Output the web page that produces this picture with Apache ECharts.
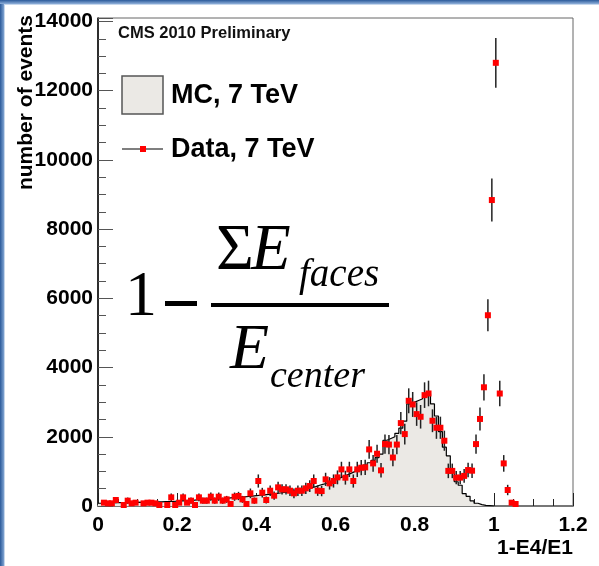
<!DOCTYPE html>
<html>
<head>
<meta charset="utf-8">
<script src="https://cdn.jsdelivr.net/npm/echarts@6/dist/echarts.min.js"></script>
<style>
  html, body { margin: 0; padding: 0; background: #fff; }
  #main { width: 599px; height: 566px; }
</style>
</head>
<body>
<div id="main"></div>
<script>
// histogram binning (1-E4/E1), bins of 0.01 starting at 0
var binWidth = 0.01;

// data, 7 TeV : counts per bin (null = empty bin, not drawn), bins 0.00 .. 1.06
var dataCounts = [
  null, 96, 77, 77, 173, null, 29, 154, 77, 96,
  null, 77, 96, 96, 77, 29, null, 29, 250, 29,
  96, 250, 96, 154, 29, 250, 154, 154, 269, 154,
  269, 154, 192, 58, 269, 289, 192, 58, 366, 154,
  722, 385, 173, 442, 298, 539, 481, 481, 442, 366,
  442, 442, 510, 577, 722, 442, 432, 770, 654, 722,
  827, 1058, 818, 1058, 722, 1058, 1106, 1116, 1635, 1231,
  1510, 1030, 1789, 1775, 1400, 1775, 2395, 2078, 3040, 2934,
  2655, 2578, 3203, 3251, 2463, 2261, 2261, 1886, 1015, 1015,
  820, 820, 870, 1039, 1020, 1789, 2515, 3430, 5512, 8840,
  12805, 3250, 1231, 462, 96, 58
];
// half length of the error bars
var dataErr = [
  null, 70, 60, 60, 90, null, 50, 90, 60, 70,
  null, 60, 70, 70, 60, 50, null, 50, 110, 50,
  70, 110, 70, 90, 50, 110, 90, 90, 120, 90,
  120, 90, 100, 60, 120, 120, 100, 60, 140, 90,
  190, 140, 100, 150, 120, 160, 150, 150, 150, 140,
  150, 150, 160, 170, 190, 150, 150, 190, 180, 190,
  200, 220, 200, 220, 190, 220, 220, 220, 270, 240,
  260, 210, 280, 280, 250, 280, 320, 300, 360, 360,
  340, 340, 370, 370, 330, 320, 320, 290, 210, 210,
  190, 190, 200, 210, 210, 280, 330, 380, 460, 620,
  720, 370, 240, 150, 70, 60
];

// MC, 7 TeV : histogram contents, bins 0.00 .. 1.00
var mcCounts = [
  80, 90, 85, 95, 100, 95, 100, 105, 100, 110,
  105, 110, 115, 110, 120, 120, 125, 130, 130, 140,
  150, 155, 160, 165, 175, 180, 185, 190, 200, 205,
  215, 220, 230, 240, 250, 255, 265, 275, 285, 300,
  310, 320, 335, 345, 360, 375, 390, 405, 420, 440,
  470, 480, 500, 530, 560, 600, 630, 670, 710, 750,
  800, 850, 900, 950, 1000, 1060, 1120, 1180, 1250, 1320,
  1400, 1500, 1900, 1950, 2000, 2100, 2250, 2450, 2950, 3000,
  3050, 3100, 3200, 3250, 2950, 2600, 2150, 1700, 1450, 1000,
  700, 600, 360, 280, 150, 80, 40, 20, 10, 0
];

var yTickLabels = [0, 2000, 4000, 6000, 8000, 10000, 12000, 14000];

var dataRows = [];
dataCounts.forEach(function (v, i) {
  if (v != null) dataRows.push([i * binWidth + binWidth / 2, v, dataErr[i]]);
});
var mcRows = mcCounts.map(function (v, i) { return [i * binWidth, v]; });
mcRows.push([mcCounts.length * binWidth, 0]);

var chart = echarts.init(document.getElementById('main'));
var sans = 'Liberation Sans, Arial, sans-serif';
var serif = 'Liberation Serif, Times New Roman, serif';

var option = {
  animation: false,
  backgroundColor: '#fff',
  grid: {
    left: 98, right: 26, top: 18, bottom: 60,
    show: true, borderColor: '#666', borderWidth: 1
  },
  xAxis: [
    {
      type: 'value', min: 0, max: 1.2, interval: 0.05, position: 'bottom',
      axisLine: { show: true, lineStyle: { color: '#777', width: 2 } },
      axisTick: { show: true, inside: true, length: 7, lineStyle: { color: '#222', width: 1 } },
      axisLabel: { show: false },
      splitLine: { show: false }
    },
    {
      type: 'value', min: 0, max: 1.2, interval: 0.2, position: 'bottom',
      axisLine: { show: false },
      axisTick: { show: true, inside: true, length: 13, lineStyle: { color: '#222', width: 1 } },
      axisLabel: {
        show: true, margin: 9, color: '#000', fontSize: 21, fontWeight: 'bold', fontFamily: sans
      },
      splitLine: { show: false }
    }
  ],
  yAxis: [
    {
      type: 'value', min: 0, max: 14100, interval: 500, position: 'left',
      axisLine: { show: true, lineStyle: { color: '#000', width: 1.5 } },
      axisTick: { show: true, inside: true, length: 8, lineStyle: { color: '#555', width: 1 } },
      axisLabel: {
        show: true, margin: 5, color: '#000', fontSize: 21, fontWeight: 'bold', fontFamily: sans,
        formatter: function (v) { return yTickLabels.indexOf(v) >= 0 ? String(v) : ''; }
      },
      splitLine: { show: false }
    },
    {
      type: 'value', min: 0, max: 14100, interval: 2000, position: 'left',
      axisLine: { show: false },
      axisTick: { show: true, inside: true, length: 15, lineStyle: { color: '#555', width: 1 } },
      axisLabel: { show: false },
      splitLine: { show: false }
    }
  ],
  series: [
    {
      name: 'MC, 7 TeV',
      type: 'line',
      xAxisIndex: 0, yAxisIndex: 0,
      step: 'end',
      symbol: 'none',
      data: mcRows,
      lineStyle: { color: '#000', width: 1.2 },
      areaStyle: { color: '#ebe9e5', opacity: 1 },
      z: 2
    },
    {
      name: 'Data, 7 TeV',
      type: 'custom',
      xAxisIndex: 0, yAxisIndex: 0,
      data: dataRows,
      encode: { x: 0, y: 1 },
      renderItem: function (params, api) {
        var x = api.value(0), v = api.value(1), e = api.value(2);
        var top = api.coord([x, v + e]);
        var bot = api.coord([x, Math.max(v - e, 0)]);
        var c = api.coord([x, v]);
        return {
          type: 'group',
          children: [
            { type: 'line', shape: { x1: top[0], y1: top[1], x2: bot[0], y2: bot[1] },
              style: { stroke: '#222', lineWidth: 1.5 } },
            { type: 'rect', shape: { x: c[0] - 3, y: c[1] - 3, width: 6, height: 6 },
              style: { fill: '#ff0000' } }
          ]
        };
      },
      z: 5
    }
  ],
  graphic: [
    // slide border
    { type: 'rect', left: 0, top: 0, shape: { width: 4, height: 566 },
      style: { fill: new echarts.graphic.LinearGradient(0, 0, 1, 0, [
        { offset: 0, color: '#2b5a9a' }, { offset: 1, color: '#7fa3d1' }]) }, silent: true },
    { type: 'rect', left: 0, top: 0, shape: { width: 599, height: 4 },
      style: { fill: new echarts.graphic.LinearGradient(0, 0, 0, 1, [
        { offset: 0, color: '#2b5a9a' }, { offset: 1, color: '#8fb0da' }]) }, silent: true },
    { type: 'rect', left: 4, top: 4, shape: { width: 1, height: 562 }, style: { fill: '#c6d7ec' }, silent: true },
    { type: 'rect', left: 4, top: 4, shape: { width: 595, height: 1 }, style: { fill: '#c6d7ec' }, silent: true },

    // texts
    { type: 'text', x: 118, y: 33, style: { text: 'CMS 2010 Preliminary', fill: '#111',
      font: 'bold 16.5px ' + sans, verticalAlign: 'middle' } },
    { type: 'text', x: 26, y: 15, rotation: Math.PI / 2, style: { text: 'number of events', fill: '#000',
      font: 'bold 21px ' + sans, align: 'right', verticalAlign: 'middle' } },
    { type: 'text', x: 573, y: 548, style: { text: '1-E4/E1', fill: '#000',
      font: 'bold 21px ' + sans, align: 'right', verticalAlign: 'middle' } },

    // legend
    { type: 'rect', shape: { x: 122, y: 76, width: 41, height: 38 },
      style: { fill: '#ebe9e5', stroke: '#555', lineWidth: 1.5 } },
    { type: 'text', x: 171, y: 96, style: { text: 'MC, 7 TeV', fill: '#000',
      font: 'bold 27px ' + sans, verticalAlign: 'middle' } },
    { type: 'line', shape: { x1: 122, y1: 149, x2: 163, y2: 149 }, style: { stroke: '#000', lineWidth: 1.2 } },
    { type: 'rect', shape: { x: 140, y: 146, width: 6, height: 6 }, style: { fill: '#ff0000' } },
    { type: 'text', x: 171, y: 150, style: { text: 'Data, 7 TeV', fill: '#000',
      font: 'bold 27px ' + sans, verticalAlign: 'middle' } },

    // formula 1 - sum E_faces / E_center
    { type: 'text', x: 125, y: 298, style: { text: '1', fill: '#000', font: '64px ' + serif, verticalAlign: 'middle' } },
    { type: 'rect', shape: { x: 165, y: 301, width: 32, height: 5 }, style: { fill: '#000' } },
    { type: 'rect', shape: { x: 211, y: 303, width: 178, height: 4 }, style: { fill: '#000' } },
    { type: 'text', x: 216, y: 252, style: { text: 'Σ', fill: '#000', font: '65px ' + serif, verticalAlign: 'middle' } },
    { type: 'text', x: 251, y: 252, style: { text: 'E', fill: '#000', font: 'italic 65px ' + serif, verticalAlign: 'middle' } },
    { type: 'text', x: 299, y: 276, style: { text: 'faces', fill: '#000', font: 'italic 39px ' + serif, verticalAlign: 'middle' } },
    { type: 'text', x: 230, y: 351, style: { text: 'E', fill: '#000', font: 'italic 64px ' + serif, verticalAlign: 'middle' } },
    { type: 'text', x: 270, y: 377, style: { text: 'center', fill: '#000', font: 'italic 38px ' + serif, verticalAlign: 'middle' } }
  ]
};

chart.setOption(option);
window.addEventListener('resize', function () { chart.resize(); });
</script>
</body>
</html>
